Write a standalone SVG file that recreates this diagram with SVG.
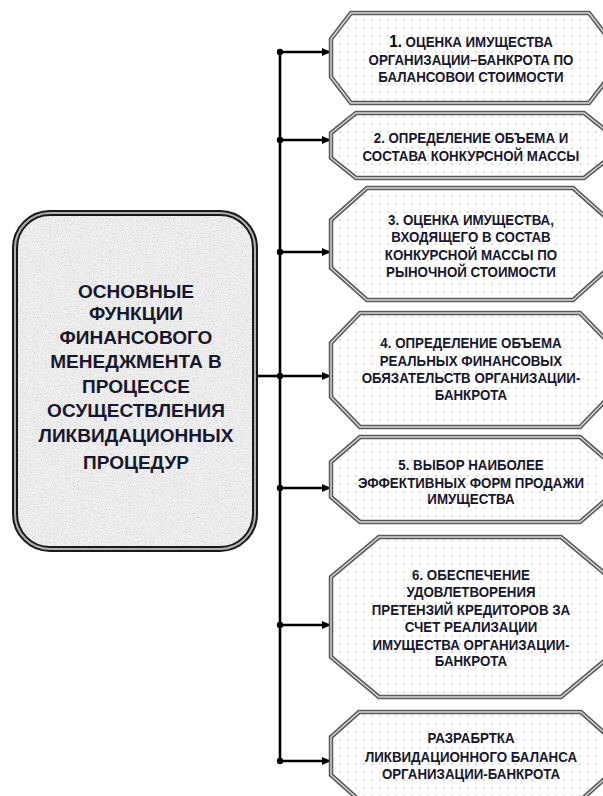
<svg xmlns="http://www.w3.org/2000/svg" width="603" height="796" viewBox="0 0 603 796">
<defs>
<pattern id="dots" width="8" height="8" patternUnits="userSpaceOnUse">
<rect width="8" height="8" fill="#ffffff"/>
<circle cx="4" cy="4" r="0.7" fill="#a8a8a8"/>
</pattern>
<filter id="granite" x="0" y="0" width="100%" height="100%">
<feTurbulence type="fractalNoise" baseFrequency="0.75" numOctaves="2" seed="3" result="n"/>
<feColorMatrix in="n" type="matrix" values="0 0 0 0 0.7  0 0 0 0 0.7  0 0 0 0 0.7  0 0 0 3 -1.35"/>
</filter>
<clipPath id="lclip"><rect x="15" y="213" width="240" height="336" rx="35"/></clipPath>
<marker id="arr" markerWidth="9" markerHeight="8" refX="9" refY="4" orient="auto" markerUnits="userSpaceOnUse">
<path d="M0,0 L9,4 L0,8 Z" fill="#000"/>
</marker>
<style>
.oct-o{fill:url(#dots);stroke:#5a5a5a;stroke-width:4.5;stroke-linejoin:miter}
.oct-i{fill:none;stroke:#d8d8d8;stroke-width:1.4}
.t{font-family:"Liberation Sans",Arial,sans-serif;font-weight:bold;font-size:14.8px;fill:#17172e;text-anchor:middle}
.tl{font-family:"Liberation Sans",Arial,sans-serif;font-weight:bold;font-size:18px;fill:#17172e;text-anchor:middle}
.ln{stroke:#000;stroke-width:2.6;fill:none}
.dot{fill:#000}
</style>
</defs>

<g id="connectors">
<line class="ln" x1="280" y1="52" x2="280" y2="761"/>
<line class="ln" x1="258" y1="376" x2="280" y2="376"/>
<line class="ln" x1="280" y1="52" x2="331" y2="52" marker-end="url(#arr)"/>
<line class="ln" x1="280" y1="140" x2="331" y2="140" marker-end="url(#arr)"/>
<line class="ln" x1="280" y1="252" x2="331" y2="252" marker-end="url(#arr)"/>
<line class="ln" x1="280" y1="376" x2="331" y2="376" marker-end="url(#arr)"/>
<line class="ln" x1="280" y1="488" x2="331" y2="488" marker-end="url(#arr)"/>
<line class="ln" x1="280" y1="625" x2="331" y2="625" marker-end="url(#arr)"/>
<line class="ln" x1="280" y1="761" x2="331" y2="761" marker-end="url(#arr)"/>
<circle class="dot" cx="280" cy="52" r="3.2"/>
<circle class="dot" cx="280" cy="140" r="3.2"/>
<circle class="dot" cx="280" cy="252" r="3.2"/>
<circle class="dot" cx="280" cy="376" r="3.2"/>
<circle class="dot" cx="280" cy="488" r="3.2"/>
<circle class="dot" cx="280" cy="625" r="3.2"/>
<circle class="dot" cx="280" cy="761" r="3.2"/>
</g>

<g id="main">
<rect x="15" y="213" width="240" height="336" rx="35" fill="#f0f0f0"/>
<rect x="15" y="213" width="240" height="336" filter="url(#granite)" clip-path="url(#lclip)"/>
<rect x="15" y="213" width="240" height="336" rx="35" fill="none" stroke="#1a1a1a" stroke-width="6"/>
<rect x="15" y="213" width="240" height="336" rx="35" fill="none" stroke="#b0b0b0" stroke-width="2"/>
<g transform="translate(136,0) scale(1.06,1)">
<text class="tl" x="0" y="298">ОСНОВНЫЕ</text>
<text class="tl" x="0" y="320">ФУНКЦИИ</text>
<text class="tl" x="0" y="344">ФИНАНСОВОГО</text>
<text class="tl" x="0" y="368">МЕНЕДЖМЕНТА В</text>
<text class="tl" x="0" y="393">ПРОЦЕССЕ</text>
<text class="tl" x="0" y="417">ОСУЩЕСТВЛЕНИЯ</text>
<text class="tl" x="0" y="442">ЛИКВИДАЦИОННЫХ</text>
<text class="tl" x="0" y="469">ПРОЦЕДУР</text>
</g>
</g>

<g id="f1">
<polygon class="oct-o" points="351,13 589,13 609,39 609,77 589,103 351,103 331,77 331,39"/>
<polygon class="oct-i" points="351,13 589,13 609,39 609,77 589,103 351,103 331,77 331,39"/>
<g transform="translate(471,0) scale(0.9,1)">
<text class="t" x="0" y="47"><tspan font-size="17" fill="#000">1.</tspan> ОЦЕНКА ИМУЩЕСТВА</text>
<text class="t" x="0" y="65">ОРГАНИЗАЦИИ–БАНКРОТА ПО</text>
<text class="t" x="0" y="82">БАЛАНСОВОИ СТОИМОСТИ</text>
</g>
</g>

<g id="f2">
<polygon class="oct-o" points="356,113 584,113 609,133 609,158 584,178 356,178 331,158 331,133"/>
<polygon class="oct-i" points="356,113 584,113 609,133 609,158 584,178 356,178 331,158 331,133"/>
<g transform="translate(471,0) scale(0.9,1)">
<text class="t" x="0" y="143">2. ОПРЕДЕЛЕНИЕ ОБЪЕМА И</text>
<text class="t" x="0" y="161.5">СОСТАВА КОНКУРСНОЙ МАССЫ</text>
</g>
</g>

<g id="f3">
<polygon class="oct-o" points="367,188 573,188 609,220 609,268 573,300 367,300 331,268 331,220"/>
<polygon class="oct-i" points="367,188 573,188 609,220 609,268 573,300 367,300 331,268 331,220"/>
<g transform="translate(471,0) scale(0.9,1)">
<text class="t" x="0" y="225">3. ОЦЕНКА ИМУЩЕСТВА,</text>
<text class="t" x="0" y="242">ВХОДЯЩЕГО В СОСТАВ</text>
<text class="t" x="0" y="260">КОНКУРСНОЙ МАССЫ ПО</text>
<text class="t" x="0" y="277">РЫНОЧНОЙ СТОИМОСТИ</text>
</g>
</g>

<g id="f4">
<polygon class="oct-o" points="360,313 580,313 609,343 609,397 580,427 360,427 331,397 331,343"/>
<polygon class="oct-i" points="360,313 580,313 609,343 609,397 580,427 360,427 331,397 331,343"/>
<g transform="translate(471,0) scale(0.9,1)">
<text class="t" x="0" y="348">4. ОПРЕДЕЛЕНИЕ ОБЪЕМА</text>
<text class="t" x="0" y="366">РЕАЛЬНЫХ ФИНАНСОВЫХ</text>
<text class="t" x="0" y="383">ОБЯЗАТЕЛЬСТВ ОРГАНИЗАЦИИ-</text>
<text class="t" x="0" y="400">БАНКРОТА</text>
</g>
</g>

<g id="f5">
<polygon class="oct-o" points="360,437 580,437 609,462 609,497 580,522 360,522 331,497 331,462"/>
<polygon class="oct-i" points="360,437 580,437 609,462 609,497 580,522 360,522 331,497 331,462"/>
<g transform="translate(471,0) scale(0.9,1)">
<text class="t" x="0" y="470">5. ВЫБОР НАИБОЛЕЕ</text>
<text class="t" x="0" y="488">ЭФФЕКТИВНЫХ ФОРМ ПРОДАЖИ</text>
<text class="t" x="0" y="504">ИМУЩЕСТВА</text>
</g>
</g>

<g id="f6">
<polygon class="oct-o" points="379,537 561,537 609,577 609,657 561,697 379,697 331,657 331,577"/>
<polygon class="oct-i" points="379,537 561,537 609,577 609,657 561,697 379,697 331,657 331,577"/>
<g transform="translate(471,0) scale(0.9,1)">
<text class="t" x="0" y="580">6. ОБЕСПЕЧЕНИЕ</text>
<text class="t" x="0" y="597">УДОВЛЕТВОРЕНИЯ</text>
<text class="t" x="0" y="615">ПРЕТЕНЗИЙ КРЕДИТОРОВ ЗА</text>
<text class="t" x="0" y="632">СЧЕТ РЕАЛИЗАЦИИ</text>
<text class="t" x="0" y="650">ИМУЩЕСТВА ОРГАНИЗАЦИИ-</text>
<text class="t" x="0" y="666">БАНКРОТА</text>
</g>
</g>

<g id="f7">
<polygon class="oct-o" points="359,712 581,712 609,737 609,775 581,800 359,800 331,775 331,737"/>
<polygon class="oct-i" points="359,712 581,712 609,737 609,775 581,800 359,800 331,775 331,737"/>
<g transform="translate(471,0) scale(0.9,1)">
<text class="t" x="0" y="743">РАЗРАБРТКА</text>
<text class="t" x="0" y="762">ЛИКВИДАЦИОННОГО БАЛАНСА</text>
<text class="t" x="0" y="779">ОРГАНИЗАЦИИ-БАНКРОТА</text>
</g>
</g>
</svg>
